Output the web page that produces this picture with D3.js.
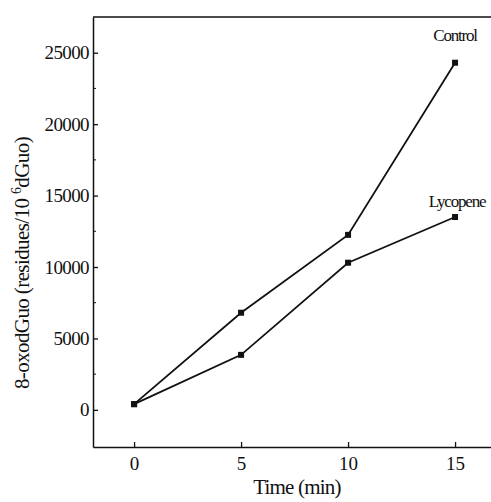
<!DOCTYPE html>
<html>
<head>
<meta charset="utf-8">
<script src="https://cdn.jsdelivr.net/npm/d3@7"></script>
<style>
  body { margin: 0; background: #fff; }
  svg { display: block; }
  text { font-family: "Liberation Serif", "DejaVu Serif", serif; fill: #111; }
</style>
</head>
<body>
<div id="chart"></div>
<script>
// data
const times = [0, 5, 10, 15];
const controlValues = [400, 6800, 12250, 24300];
const lycopeneValues = [400, 3850, 10300, 13500];
const xTicks = [0, 5, 10, 15];
const yTicks = [0, 5000, 10000, 15000, 20000, 25000];
const yMinorTicks = [2500, 7500, 12500, 17500, 22500];
const seriesNames = ["Control", "Lycopene"];

const width = 491, height = 502;
const margin = { top: 17, right: 0, bottom: 55, left: 93 };

const svg = d3.select("#chart")
    .append("svg")
    .attr("width", width)
    .attr("height", height);

const xScale = d3.scaleLinear()
    .domain([-1.92, 16.68])
    .range([margin.left, width - margin.right]);

const yScale = d3.scaleLinear()
    .domain([-2600, 27500])
    .range([height - margin.bottom, margin.top]);

const ink = "#111";

// frame: top line
svg.append("line")
    .attr("x1", margin.left).attr("x2", width)
    .attr("y1", margin.top).attr("y2", margin.top)
    .attr("stroke", ink).attr("stroke-width", 1.5);

// x axis
const xAxis = svg.append("g")
    .attr("transform", `translate(0,${height - margin.bottom})`)
    .call(d3.axisBottom(xScale).tickValues(xTicks).tickSize(-5).tickPadding(10).tickSizeOuter(0));
xAxis.select(".domain").attr("stroke", ink).attr("stroke-width", 1.6);
xAxis.selectAll(".tick line").attr("stroke", ink).attr("stroke-width", 1.3);
xAxis.selectAll(".tick text")
    .attr("font-size", 19)
    .attr("fill", ink);

svg.append("text")
    .attr("x", 297)
    .attr("y", 494)
    .attr("text-anchor", "middle")
    .attr("font-size", 21)
    .attr("letter-spacing", -0.8)
    .text("Time (min)");

// y axis
const yAxis = svg.append("g")
    .attr("transform", `translate(${margin.left},0)`)
    .call(d3.axisLeft(yScale).tickValues(yTicks).tickFormat(d3.format("d"))
        .tickSize(-5).tickPadding(4).tickSizeOuter(0));
yAxis.select(".domain").attr("stroke", ink).attr("stroke-width", 1.5);
yAxis.selectAll(".tick line").attr("stroke", ink).attr("stroke-width", 1.3);
yAxis.selectAll(".tick text")
    .attr("font-size", 19)
    .attr("letter-spacing", -0.6)
    .attr("fill", ink);

svg.append("g")
    .attr("transform", `translate(${margin.left},0)`)
    .selectAll("line")
    .data(yMinorTicks)
    .join("line")
    .attr("x1", 0).attr("x2", 3)
    .attr("y1", d => yScale(d)).attr("y2", d => yScale(d))
    .attr("stroke", ink).attr("stroke-width", 1);

const yLabel = svg.append("text")
    .attr("transform", `translate(29,263) rotate(-90)`)
    .attr("text-anchor", "middle")
    .attr("font-size", 21)
    .attr("letter-spacing", -0.6);
yLabel.append("tspan").text("8-oxodGuo (residues/10 ");
yLabel.append("tspan").attr("dy", -8).attr("font-size", 14).text("6");
yLabel.append("tspan").attr("dy", 8).text("dGuo)");

// series
const series = [
    { name: seriesNames[0], values: controlValues },
    { name: seriesNames[1], values: lycopeneValues }
];

const line = d3.line()
    .x((d, i) => xScale(times[i]))
    .y(d => yScale(d));

series.forEach(s => {
    svg.append("path")
        .datum(s.values)
        .attr("fill", "none")
        .attr("stroke", ink)
        .attr("stroke-width", 1.8)
        .attr("d", line);

    svg.selectAll(null)
        .data(s.values)
        .join("rect")
        .attr("x", (d, i) => xScale(times[i]) - 3)
        .attr("y", d => yScale(d) - 3)
        .attr("width", 6)
        .attr("height", 6)
        .attr("fill", ink);
});

// series labels near the last point
svg.append("text")
    .attr("x", xScale(15))
    .attr("y", yScale(controlValues[3]) - 22)
    .attr("text-anchor", "middle")
    .attr("font-size", 17)
    .attr("letter-spacing", -1.2)
    .text(seriesNames[0]);

svg.append("text")
    .attr("x", xScale(15) + 2)
    .attr("y", yScale(lycopeneValues[3]) - 10)
    .attr("text-anchor", "middle")
    .attr("font-size", 17)
    .attr("letter-spacing", -1.2)
    .text(seriesNames[1]);
</script>
</body>
</html>
